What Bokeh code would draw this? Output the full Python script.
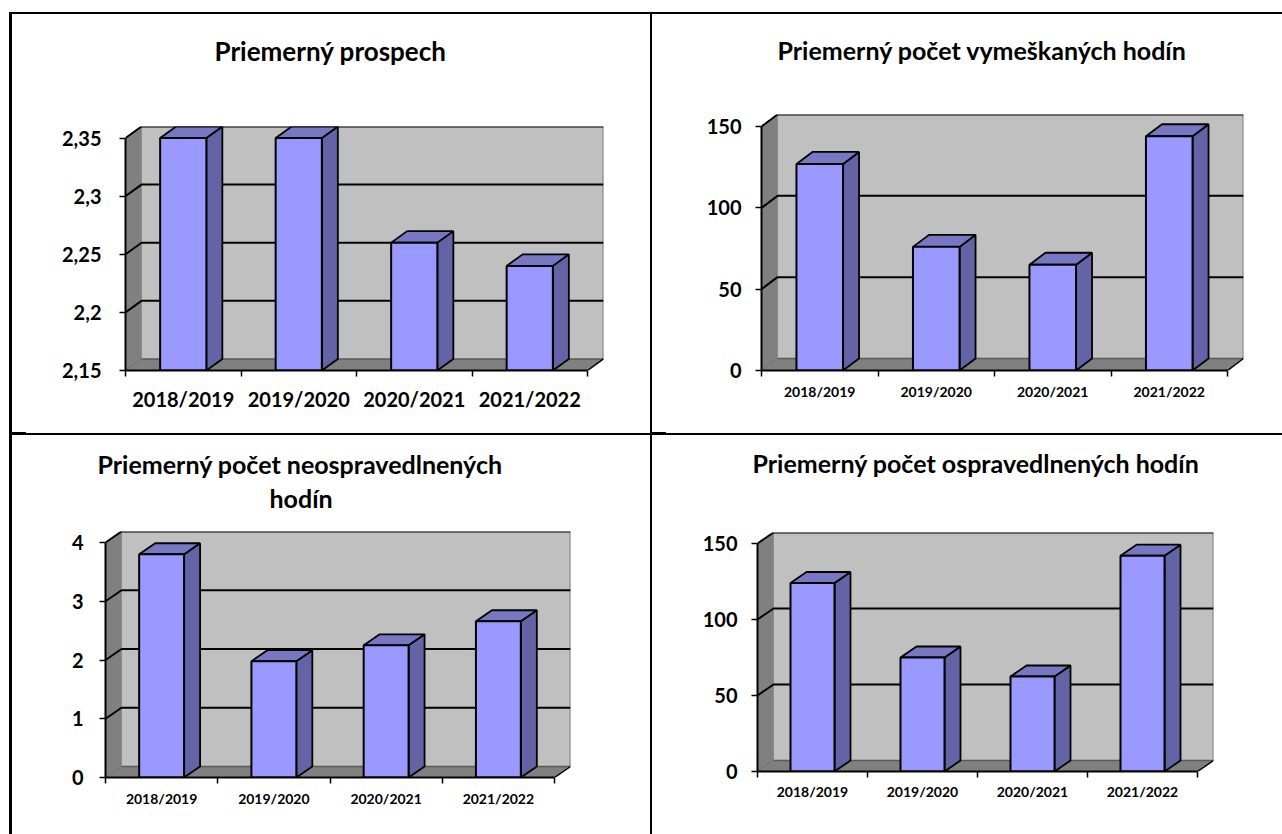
from bokeh.plotting import figure
from bokeh.layouts import column, row
from bokeh.models import FixedTicker, LinearAxis, Title, ColumnDataSource, Spacer
from bokeh.embed import file_html
from bokeh.resources import INLINE

years = ["2018/2019", "2019/2020", "2020/2021", "2021/2022"]

title_prospech = ["Priemerný prospech"]
values_prospech = [2.35, 2.35, 2.26, 2.24]
ticks_prospech = [2.15, 2.2, 2.25, 2.3, 2.35]
labels_prospech = ["2,15", "2,2", "2,25", "2,3", "2,35"]

title_vymeskane = ["Priemerný počet vymeškaných hodín"]
values_vymeskane = [127, 76, 65, 144]
ticks_vymeskane = [0, 50, 100, 150]
labels_vymeskane = ["0", "50", "100", "150"]

title_neosp = ["hodín", "Priemerný počet neospravedlnených"]
values_neosp = [3.8, 1.98, 2.25, 2.66]
ticks_neosp = [0, 1, 2, 3, 4]
labels_neosp = ["0", "1", "2", "3", "4"]

title_osp = ["Priemerný počet ospravedlnených hodín"]
values_osp = [124, 75, 62.5, 142]
ticks_osp = [0, 50, 100, 150]
labels_osp = ["0", "50", "100", "150"]

FONT = "Lato"
FRONT, TOP, SIDE = "#9999FF", "#7777C4", "#6363A6"
WALL, DARKWALL = "#C0C0C0", "#808080"


def panel(title, values, ticks, labels, ox, oy, W, H, ax_left, ax_right, y_bottom, y_top,
          depth_x, depth_y, title_lefts, title_lift, title_standoffs, title_size, cat_size,
          val_size, val_standoff, cat_standoff):
    ymin, ymax = ticks[0], ticks[-1]
    cat_px = (ax_right - ax_left) / 4
    dx = depth_x / cat_px
    dy = depth_y * (ymax - ymin) / (y_bottom - y_top)
    p = figure(width=W, height=H, output_backend="svg", toolbar_location=None,
               x_range=(0, 4 + dx), y_range=(ymin, ymax + dy),
               x_axis_type=None, y_axis_type=None, frame_align=False,
               min_border_left=ax_left - ox,
               min_border_right=W - (ax_right + depth_x - ox),
               min_border_top=int(y_top - depth_y - oy),
               min_border_bottom=H - (y_bottom - oy),
               outline_line_color=None, background_fill_color="white",
               border_fill_color="white", title=None)
    p.grid.visible = False

    # walls and floor
    p.patch([0, dx, dx, 0], [ymin, ymin + dy, ymax + dy, ymax], fill_color=DARKWALL,
            line_color="#5a5a5a", line_width=1)
    p.quad(left=dx, right=4 + dx, bottom=ymin + dy, top=ymax + dy, fill_color=WALL,
           line_color=None)
    p.line([4 + dx, 4 + dx], [ymin + dy, ymax + dy], line_color=DARKWALL, line_width=2)
    p.patch([0, 4, 4 + dx, dx], [ymin, ymin, ymin + dy, ymin + dy], fill_color=DARKWALL,
            line_color=None)
    p.line([dx, 4 + dx], [ymin + dy, ymin + dy], line_color="#5a5a5a", line_width=1.5)
    p.line([4, 4 + dx], [ymin, ymin + dy], line_color="black", line_width=1.5)

    # grid on side and back wall
    for t in ticks[1:]:
        p.line([0, dx, 4 + dx], [t, t + dy, t + dy], line_color="black", line_width=2)

    # bars
    x0 = [i + 0.3 for i in range(4)]
    x1 = [i + 0.7 for i in range(4)]
    side_xs = [[a, a + dx, a + dx, a] for a in x1]
    side_ys = [[ymin, ymin + dy, v + dy, v] for v in values]
    top_xs = [[a, a + dx, b + dx, b] for a, b in zip(x0, x1)]
    top_ys = [[v, v + dy, v + dy, v] for v in values]
    p.patches(side_xs, side_ys, fill_color=SIDE, line_color="black", line_width=1.8)
    p.patches(top_xs, top_ys, fill_color=TOP, line_color="black", line_width=1.8)
    p.quad(source=ColumnDataSource(dict(l=x0, r=x1, t=values, b=[ymin] * 4)),
           left="l", right="r", top="t", bottom="b",
           fill_color=FRONT, line_color="black", line_width=2)

    # axes
    yax = LinearAxis(ticker=FixedTicker(ticks=ticks), bounds=(ymin, ymax),
                     major_label_overrides=dict(zip(ticks, labels)))
    yax.axis_line_color = "black"
    yax.axis_line_width = 2
    yax.major_tick_line_width = 1.5
    yax.major_tick_out = 6
    yax.major_tick_in = 0
    yax.minor_tick_line_color = None
    yax.major_label_standoff = val_standoff
    yax.major_label_text_font = FONT
    yax.major_label_text_font_style = "bold"
    yax.major_label_text_font_size = val_size
    yax.major_label_text_color = "black"
    p.add_layout(yax, "left")

    centers = [i + 0.5 for i in range(4)]
    xax = LinearAxis(ticker=FixedTicker(ticks=centers, minor_ticks=[0, 1, 2, 3, 4]),
                     bounds=(0, 4), major_label_overrides=dict(zip(centers, years)))
    xax.axis_line_color = "black"
    xax.axis_line_width = 2
    xax.major_tick_line_color = None
    xax.major_tick_out = 0
    xax.major_tick_in = 0
    xax.minor_tick_line_color = "black"
    xax.minor_tick_line_width = 1.5
    xax.minor_tick_out = 6
    xax.minor_tick_in = 0
    xax.major_label_standoff = cat_standoff
    xax.major_label_text_font = FONT
    xax.major_label_text_font_style = "bold"
    xax.major_label_text_font_size = cat_size
    xax.major_label_text_color = "black"
    p.add_layout(xax, "below")

    # an empty title lifts the real ones off the chart
    p.add_layout(Title(text=" ", text_font_size="1px", standoff=title_lift), "above")
    for text, left, so in zip(title, title_lefts, title_standoffs):
        p.add_layout(Title(text=text, align="left", vertical_align="top", text_font=FONT,
                           text_font_style="bold", text_font_size=title_size,
                           text_color="black", offset=left - ax_left, standoff=so), "above")
    return p


def bar(w, h, color="black"):
    return Spacer(width=w, height=h, styles={"background-color": color})


tl = panel(title_prospech, values_prospech, ticks_prospech, labels_prospech,
           12, 14, 638, 418, 125, 587, 370, 138, 16, 11.5, [214], 55, [0], "26px", "20px", "20px", 18, 10)
tr = panel(title_vymeskane, values_vymeskane, ticks_vymeskane, labels_vymeskane,
           652, 14, 630, 418, 761, 1227, 370, 126, 16, 12, [777], 45, [0], "25px", "14px", "20px", 14, 6)
bl = panel(title_neosp, values_neosp, ticks_neosp, labels_neosp,
           12, 435, 638, 399, 105, 554, 777, 542, 16, 11, [269, 97], 14, [0, 4], "25px", "14px", "20px", 16, 6)
br = panel(title_osp, values_osp, ticks_osp, labels_osp,
           652, 435, 630, 399, 757, 1197, 771, 543, 16, 11, [752], 50, [0], "25px", "14px", "20px", 14, 5)

page = column(
    Spacer(width=1282, height=12),
    row(Spacer(width=9, height=2), bar(1273, 2)),
    row(Spacer(width=9, height=418), bar(3, 418), tl, bar(2, 418), tr),
    row(Spacer(width=9, height=1), bar(17, 1), Spacer(width=624, height=1), bar(16, 1),
        Spacer(width=616, height=1)),
    row(Spacer(width=9, height=2), bar(1273, 2)),
    row(Spacer(width=9, height=399), bar(3, 399), bl, bar(2, 399), br),
)
open("out.html", "w").write(file_html(page, INLINE))
